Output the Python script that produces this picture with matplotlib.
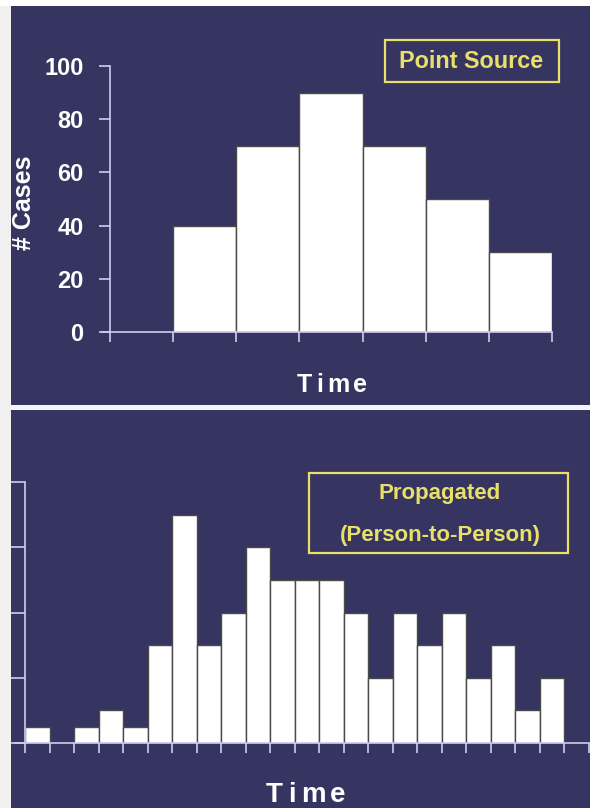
import numpy as np
import matplotlib
matplotlib.use("Agg")
import matplotlib.pyplot as plt
from matplotlib.patches import Rectangle

# ── Data ─────────────────────────────────────────────────────────────────────
point_cases = [0, 40, 70, 90, 70, 50, 30]          # one bar per time bin
point_yticks = [0, 20, 40, 60, 80, 100]

prop_cases = [1, 0, 1, 2, 1, 6, 14, 6, 8, 12, 10, 10, 10, 8,
              4, 8, 6, 8, 4, 6, 2, 4, 0]
prop_yticks = [0, 4, 8, 12, 16]

# ── Style ────────────────────────────────────────────────────────────────────
W, H = 590, 808
NAVY = "#363460"
AXIS = "#cfcdef"
YELLOW = "#e8e068"
BAR_EDGE = "#4a4a4a"
FONT = ["Liberation Sans", "DejaVu Sans"]
plt.rcParams["font.family"] = FONT

fig = plt.figure(figsize=(W / 100, H / 100), dpi=100, facecolor="#f0f0f0")


def px_rect(x0, y0, x1, y1, **kw):
    """Rectangle given in image pixels (y measured from the top)."""
    return Rectangle((x0 / W, 1 - y1 / H), (x1 - x0) / W, (y1 - y0) / H,
                     transform=fig.transFigure, **kw)


# panel backgrounds (behind the axes)
for rect, fc in [((0, 0, W, 6), "white"),
                 ((11, 6, W, 405), NAVY),
                 ((11, 405, W, 410), "#f4f4fb"),
                 ((11, 410, W, H), NAVY)]:
    fig.patches.append(px_rect(*rect, facecolor=fc, edgecolor="none", zorder=-5))


def style_axes(ax, tick_len_y):
    ax.set_facecolor("none")
    for s in ("top", "right"):
        ax.spines[s].set_visible(False)
    for s in ("left", "bottom"):
        ax.spines[s].set_color(AXIS)
        ax.spines[s].set_linewidth(1.2)
    ax.spines["left"].set_position(("data", 0))
    ax.tick_params(axis="x", colors=AXIS, length=7, width=1.2, direction="out",
                   labelbottom=False)
    ax.tick_params(axis="y", colors=AXIS, length=tick_len_y, width=1.2,
                   direction="out")


# ── Top panel: point source ─────────────────────────────────────────────────
ax1 = fig.add_axes([101.8 / W, 1 - 332 / H, (552 - 101.8) / W, 266 / H])
x1 = np.arange(len(point_cases))
ax1.bar(x1, point_cases, width=1, align="edge", color="white",
        edgecolor=BAR_EDGE, linewidth=1.0, zorder=2)
ax1.set_xlim(-0.13, len(point_cases))
ax1.set_ylim(0, 100)
ax1.set_xticks(np.arange(len(point_cases) + 1))
ax1.set_yticks(point_yticks)
style_axes(ax1, 8)
ax1.tick_params(axis="y", labelcolor="white", labelsize=17, pad=11)
for lab in ax1.get_yticklabels():
    lab.set_fontweight("bold")
ax1.spines["left"].set_bounds(0, 100)

fig.text(24 / W, 1 - 203 / H, "# Cases", rotation=90, ha="center", va="center",
         color="white", fontsize=18, fontweight="bold")

# ── Bottom panel: propagated ────────────────────────────────────────────────
ax2 = fig.add_axes([15.2 / W, 1 - 743 / H, (589 - 15.2) / W, 261 / H])
x2 = np.arange(len(prop_cases))
ax2.bar(x2, prop_cases, width=1, align="edge", color="white",
        edgecolor=BAR_EDGE, linewidth=1.0, zorder=2)
ax2.set_xlim(-0.4, len(prop_cases))
ax2.set_ylim(0, 16)
ax2.set_xticks(np.arange(len(prop_cases) + 1))
ax2.set_yticks(prop_yticks)
style_axes(ax2, 10)
ax2.tick_params(axis="y", labelleft=False)

# ── Legend-style boxes ──────────────────────────────────────────────────────
fig.patches.append(px_rect(385, 40, 559, 82, facecolor="none", edgecolor=YELLOW,
                           linewidth=1.6, zorder=5))
fig.text(471 / W, 1 - 62 / H, "Point Source", ha="center", va="center",
         color=YELLOW, fontsize=16.8, fontweight="bold")

fig.patches.append(px_rect(309, 473, 568, 553, facecolor="none", edgecolor=YELLOW,
                           linewidth=1.6, zorder=5))
fig.text(440 / W, 1 - 494 / H, "Propagated", ha="center", va="center",
         color=YELLOW, fontsize=16, fontweight="bold")
fig.text(440 / W, 1 - 535 / H, "(Person-to-Person)", ha="center", va="center",
         color=YELLOW, fontsize=16, fontweight="bold")


# ── Letter-spaced "Time" labels ─────────────────────────────────────────────
def tracked_text(s, cx, base_y, size, spacing):
    r = fig.canvas.get_renderer()
    widths = []
    for ch in s:
        t = fig.text(0, 0, ch, fontsize=size, fontweight="bold")
        widths.append(t.get_window_extent(r).width)
        t.remove()
    total = sum(widths) + spacing * (len(s) - 1)
    x = cx - total / 2
    for ch, w in zip(s, widths):
        fig.text(x / W, 1 - base_y / H, ch, ha="left", va="baseline",
                 fontsize=size, fontweight="bold", color="white")
        x += w + spacing


tracked_text("Time", 332, 392, 18, 4.0)
tracked_text("Time", 306, 802, 20, 5.0)

fig.savefig("out.png", dpi=100, facecolor=fig.get_facecolor())
